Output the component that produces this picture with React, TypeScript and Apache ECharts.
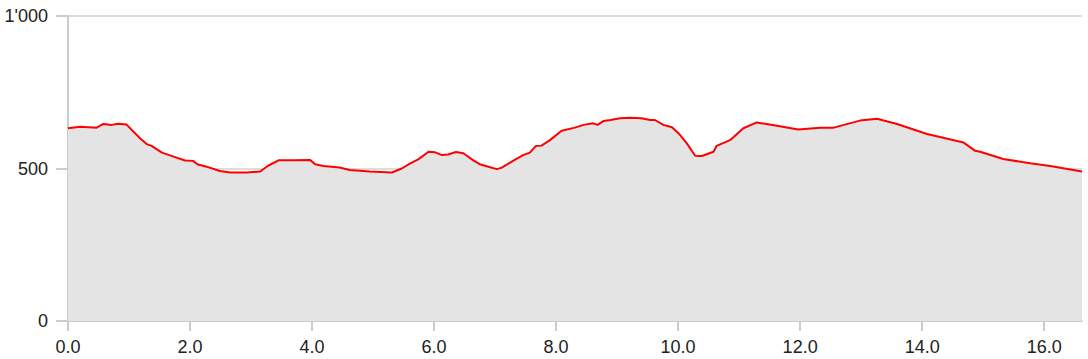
import React, { useEffect, useRef } from "react";
import * as echarts from "echarts";

const distances = [0, 0.2, 0.47, 0.58, 0.72, 0.82, 0.96, 1.18, 1.29, 1.37, 1.54, 1.73, 1.92, 2.05, 2.12, 2.27, 2.49, 2.66, 2.93, 3.15, 3.28, 3.45, 3.69, 3.97, 4.05, 4.19, 4.45, 4.62, 4.95, 5.31, 5.47, 5.61, 5.74, 5.91, 6.02, 6.13, 6.23, 6.36, 6.48, 6.65, 6.75, 6.89, 7.03, 7.11, 7.3, 7.46, 7.57, 7.67, 7.76, 7.9, 8.09, 8.31, 8.45, 8.61, 8.68, 8.78, 8.89, 9.05, 9.21, 9.4, 9.54, 9.62, 9.76, 9.9, 10.01, 10.14, 10.28, 10.39, 10.58, 10.63, 10.85, 11.07, 11.29, 11.62, 11.97, 12.33, 12.55, 12.98, 13.26, 13.59, 14.08, 14.68, 14.87, 14.95, 15.33, 15.77, 16.1, 16.62];
const elevations = [632, 637, 634, 646, 643, 647, 644, 599, 580, 574, 552, 539, 526, 525, 514, 506, 492, 487, 487, 490, 509, 527, 527, 528, 514, 508, 503, 495, 490, 487, 500, 517, 530, 555, 553, 544, 546, 554, 550, 526, 514, 506, 498, 503, 526, 544, 552, 574, 575, 593, 624, 634, 643, 648, 643, 656, 659, 665, 666, 665, 659, 659, 643, 635, 615, 583, 542, 541, 555, 574, 593, 632, 651, 640, 628, 634, 634, 657, 663, 646, 613, 585, 558, 555, 531, 517, 508, 490];

const xTickInterval = 2;
const yTicks = [0, 500, 1000];

function fmtThousands(v: number): string {
  return String(Math.round(v)).replace(/\B(?=(\d{3})+(?!\d))/g, "'");
}

export default function App() {
  const ref = useRef<HTMLDivElement>(null);
  useEffect(() => {
    if (!ref.current) return;
    const chart = echarts.init(ref.current, undefined, { renderer: "svg" });
    const font = "'Liberation Sans', Arial, sans-serif";
    chart.setOption({
      animation: false,
      grid: { left: 68, right: 6, top: 16, bottom: 38, containLabel: false },
      xAxis: {
        type: "value",
        min: 0,
        max: distances[distances.length - 1],
        interval: xTickInterval,
        axisLine: { show: true, lineStyle: { color: "#cccccc", width: 2 } },
        axisTick: { show: true, length: 10, lineStyle: { color: "#cccccc", width: 2 } },
        splitLine: { show: false },
        axisLabel: {
          showMaxLabel: false,
          margin: 17,
          color: "#222",
          fontSize: 18,
          fontFamily: font,
          formatter: (v: number) => v.toFixed(1),
        },
      },
      yAxis: {
        type: "value",
        min: yTicks[0],
        max: yTicks[yTicks.length - 1],
        interval: 500,
        axisLine: { show: true, lineStyle: { color: "#cccccc", width: 2 } },
        axisTick: { show: true, length: 12, lineStyle: { color: "#cccccc", width: 2 } },
        splitLine: { show: true, lineStyle: { color: "#dddddd", width: 2 } },
        axisLabel: {
          margin: 20,
          color: "#222",
          fontSize: 18,
          fontFamily: font,
          formatter: (v: number) => fmtThousands(v),
        },
      },
      series: [
        {
          type: "line",
          data: distances.map((d, i) => [d, elevations[i]]),
          showSymbol: false,
          symbol: "none",
          lineStyle: { color: "#ff0000", width: 2 },
          areaStyle: { color: "#e4e4e4", opacity: 1 },
          z: 3,
        },
      ],
    });
    return () => chart.dispose();
  }, []);
  return (
    <div
      ref={ref}
      style={{ position: "fixed", left: 0, top: 0, width: 1088, height: 359, background: "#fff" }}
    />
  );
}
